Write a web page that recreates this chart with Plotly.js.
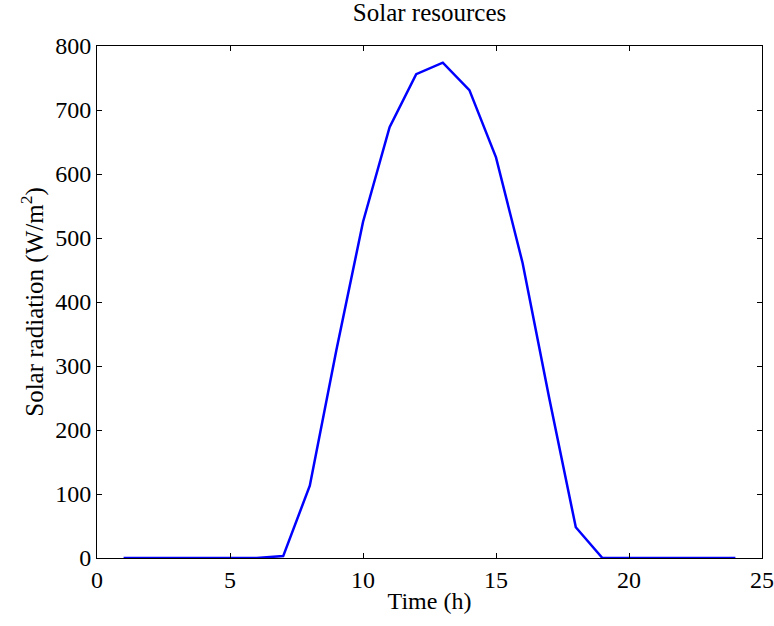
<!DOCTYPE html>
<html><head><meta charset="utf-8">
<script src="https://cdn.plot.ly/plotly-3.0.1.min.js"></script>
<style>body{margin:0;background:#fff}#chart{width:774px;height:626px}</style>
</head><body><div id="chart"></div>
<script>
const hours = [1,2,3,4,5,6,7,8,9,10,11,12,13,14,15,16,17,18,19,20,21,22,23,24];
const radiation = [0,0,0,0,0,0,3,113,325,525,673,756,774,731,626,461,250,48,0,0,0,0,0,0];
const xTicks = [0,5,10,15,20,25];
const yTicks = [0,100,200,300,400,500,600,700,800];

const font = {family: '"Liberation Serif", "Times New Roman", serif', color: '#000'};
Plotly.newPlot('chart', [{
  x: hours, y: radiation, type: 'scatter', mode: 'lines',
  line: {color: '#0000FF', width: 2.5}
}], {
  width: 774, height: 626,
  margin: {l: 97, r: 12, t: 46, b: 68},
  paper_bgcolor: '#fff', plot_bgcolor: '#fff',
  showlegend: false,
  title: {text: 'Solar resources', font: {...font, size: 25}, x: 0.555, xanchor: 'center', y: 0.995, yanchor: 'top'},
  xaxis: {
    range: [0, 25], tickvals: xTicks, ticks: 'inside', ticklen: 5, tickcolor: '#000',
    mirror: 'ticks', showline: true, linecolor: '#000', linewidth: 1, showgrid: false, zeroline: false,
    tickfont: {...font, size: 24},
    title: {text: 'Time (h)', font: {...font, size: 24}, standoff: 0}
  },
  yaxis: {
    range: [0, 800], tickvals: yTicks, ticks: 'inside', ticklen: 5, tickcolor: '#000',
    mirror: 'ticks', showline: true, linecolor: '#000', linewidth: 1, showgrid: false, zeroline: false,
    tickfont: {...font, size: 24},
    title: {text: 'Solar radiation (W/m<sup>2</sup>)', font: {...font, size: 25}, standoff: 4}
  }
}, {displayModeBar: false, staticPlot: true});
</script></body></html>
